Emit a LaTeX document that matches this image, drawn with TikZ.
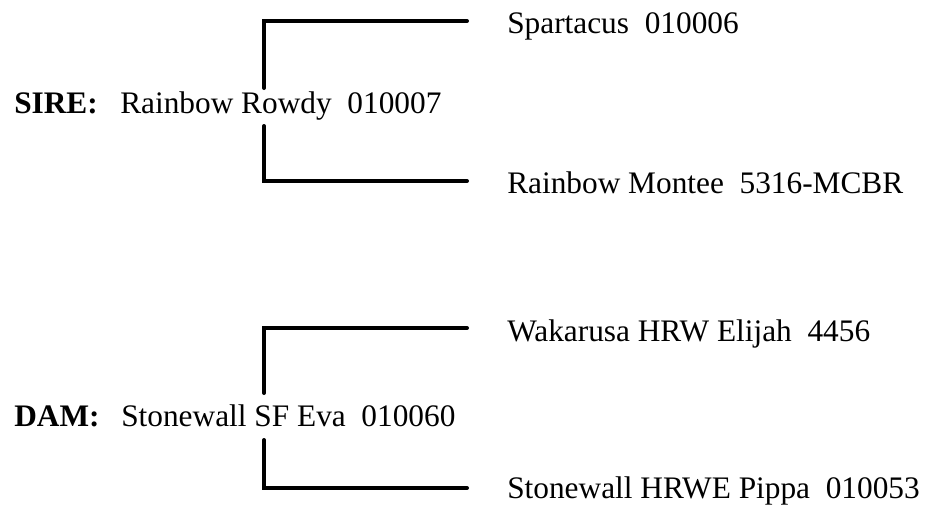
\documentclass[tikz,border=0pt]{standalone}
\usepackage{fontspec}
\setmainfont{Liberation Serif}
\begin{document}
\begin{tikzpicture}[x=0.75pt,y=-0.75pt,
  lbl/.style={anchor=base west,inner sep=0pt,font=\fontsize{23.5}{28}\selectfont},
  bracket/.style={line width=3pt,line cap=round,line join=miter}]
\useasboundingbox (0,0) rectangle (929,508);
% SIRE
\node[lbl] (sirelbl) at (14,113) {\textbf{SIRE:}};
\node[lbl] (sire) at (120,113) {Rainbow Rowdy\ \ 010007};
\node[lbl] (ss) at (507,33) {Spartacus\ \ 010006};
\node[lbl] (sd) at (507,193) {Rainbow Montee\ \ 5316-MCBR};
\coordinate (s1) at (264,88);
\coordinate (s2) at (264,21);
\coordinate (s3) at (467,21);
\coordinate (s4) at (264,126);
\coordinate (s5) at (264,181);
\coordinate (s6) at (467,181);
\draw[bracket] (s1) -- (s2) -- (s3);
\draw[bracket] (s4) -- (s5) -- (s6);
% DAM
\node[lbl] (damlbl) at (14,426) {\textbf{DAM:}};
\node[lbl] (dam) at (121,426) {Stonewall SF Eva\ \ 010060};
\node[lbl] (ds) at (507,341) {Wakarusa HRW Elijah\ \ 4456};
\node[lbl] (dd) at (507,498) {Stonewall HRWE Pippa\ \ 010053};
\coordinate (d1) at (264,393);
\coordinate (d2) at (264,328);
\coordinate (d3) at (467,328);
\coordinate (d4) at (264,440);
\coordinate (d5) at (264,488);
\coordinate (d6) at (467,488);
\draw[bracket] (d1) -- (d2) -- (d3);
\draw[bracket] (d4) -- (d5) -- (d6);
\end{tikzpicture}
\end{document}
